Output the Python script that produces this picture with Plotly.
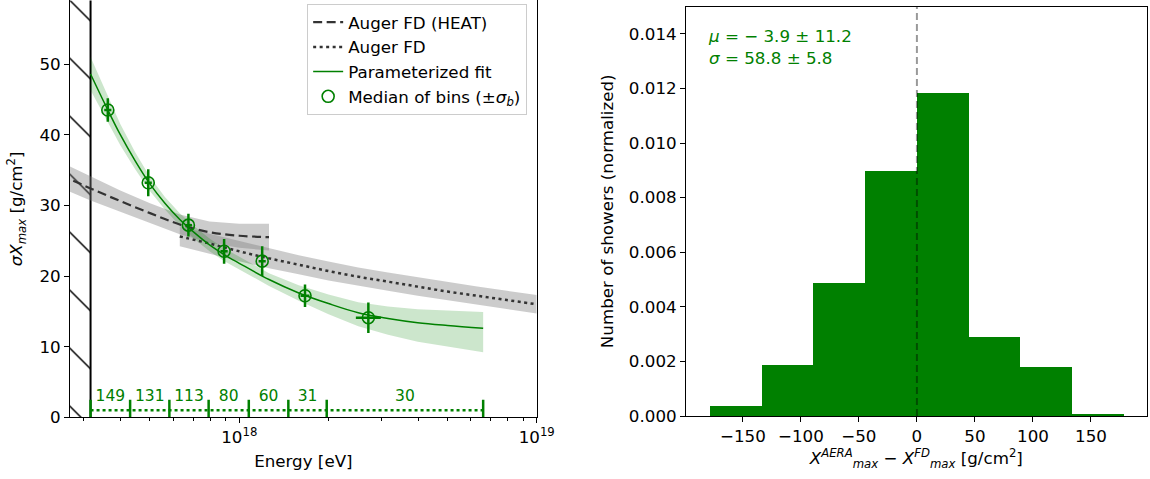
import plotly.graph_objects as go

# ---------------- Left panel data (log10 of energy in eV, sigma Xmax in g/cm^2) ----------------
fit_lgE   = [17.5, 17.55, 17.6, 17.65, 17.7, 17.75, 17.8, 17.85, 17.9, 17.95, 18.0, 18.1, 18.2, 18.3, 18.4, 18.5, 18.6, 18.7, 18.82]
fit_mean  = [48.6, 44.2, 40.0, 36.3, 33.0, 30.3, 28.0, 26.1, 24.4, 23.0, 21.8, 19.5, 17.6, 16.1, 14.8, 14.0, 13.4, 13.0, 12.6]
fit_upper = [51.0, 46.2, 41.5, 37.5, 34.0, 31.2, 28.9, 27.0, 25.3, 23.9, 22.7, 20.4, 18.7, 17.4, 16.3, 15.7, 15.3, 15.1, 14.9]
fit_lower = [46.3, 42.3, 38.5, 35.1, 32.0, 29.4, 27.1, 25.2, 23.5, 22.1, 20.9, 18.6, 16.5, 14.6, 12.9, 11.7, 10.7, 10.0, 9.2]

heat_lgE  = [17.40, 17.5, 17.6, 17.7, 17.8, 17.9, 18.0, 18.1]
heat_mean = [34.3, 32.4, 30.6, 28.9, 27.3, 26.2, 25.7, 25.5]
heat_half = [1.8, 1.7, 1.5, 1.4, 1.4, 1.5, 1.7, 1.9]

fd_lgE  = [17.8, 17.9, 18.0, 18.1, 18.2, 18.3, 18.4, 18.5, 18.6, 18.7, 18.8, 18.9, 19.0]
fd_mean = [25.6, 24.6, 23.5, 22.5, 21.6, 20.7, 19.9, 19.2, 18.5, 17.8, 17.2, 16.6, 16.0]
fd_half = [1.4, 1.4, 1.4, 1.4, 1.35, 1.35, 1.3, 1.3, 1.3, 1.3, 1.3, 1.3, 1.3]

pts_lgE    = [17.558, 17.694, 17.829, 17.949, 18.077, 18.221, 18.434]
pts_lgEerr = [0.012, 0.012, 0.012, 0.012, 0.012, 0.015, 0.042]
pts_sigma  = [43.5, 33.2, 27.2, 23.5, 22.1, 17.2, 14.1]
pts_err    = [1.65, 1.9, 1.6, 1.75, 2.1, 1.6, 2.15]

bin_edges_lgE = [17.5, 17.633, 17.765, 17.897, 18.032, 18.165, 18.294, 18.82]
bin_counts    = ["149", "131", "113", "80", "60", "31", "30"]
bin_line_y    = 1.0
count_text_y  = 2.9

cut_lgE = 17.5
left_xrange = [17.431, 19.0]
left_yrange = [0, 59]

# ---------------- Right panel data ----------------
hist_edges   = [-178.5, -133.9, -89.2, -44.6, 0.0, 44.6, 89.2, 133.9, 178.5]
hist_heights = [0.0004, 0.0019, 0.0049, 0.0090, 0.01185, 0.0029, 0.00183, 0.0001]
right_xrange = [-199, 198]
right_yrange = [0, 0.015]
x_ticks_r = [-150, -100, -50, 0, 50, 100, 150]
y_ticks_r = [0.0, 0.002, 0.004, 0.006, 0.008, 0.010, 0.012, 0.014]

GREEN = "#008000"
FONT = "DejaVu Sans"
FS = 16.7


def E(lg):
    return [10 ** v for v in lg]


fig = go.Figure()

# hatched excluded region
fig.add_trace(go.Scatter(
    x=E([17.3, cut_lgE, cut_lgE, 17.3]), y=[0, 0, 70, 70],
    mode="lines", fill="toself", line=dict(width=0),
    fillcolor="rgba(0,0,0,0)",
    fillpattern=dict(shape="\\", size=41, solidity=0.035, fgcolor="black", fgopacity=1,
                     bgcolor="rgba(0,0,0,0)"),
    showlegend=False, hoverinfo="skip", xaxis="x", yaxis="y"))
fig.add_trace(go.Scatter(
    x=E([cut_lgE, cut_lgE]), y=[0, 70], mode="lines",
    line=dict(color="black", width=2), showlegend=False, hoverinfo="skip"))

# bands
heat_up = [m + h for m, h in zip(heat_mean, heat_half)]
heat_lo = [m - h for m, h in zip(heat_mean, heat_half)]
fig.add_trace(go.Scatter(
    x=E(heat_lgE) + E(heat_lgE)[::-1], y=heat_up + heat_lo[::-1],
    fill="toself", fillcolor="rgba(128,128,128,0.4)", line=dict(width=0),
    mode="lines", showlegend=False, hoverinfo="skip"))
fd_up = [m + h for m, h in zip(fd_mean, fd_half)]
fd_lo = [m - h for m, h in zip(fd_mean, fd_half)]
fig.add_trace(go.Scatter(
    x=E(fd_lgE) + E(fd_lgE)[::-1], y=fd_up + fd_lo[::-1],
    fill="toself", fillcolor="rgba(128,128,128,0.4)", line=dict(width=0),
    mode="lines", showlegend=False, hoverinfo="skip"))
fig.add_trace(go.Scatter(
    x=E(fit_lgE) + E(fit_lgE)[::-1], y=fit_upper + fit_lower[::-1],
    fill="toself", fillcolor="rgba(0,128,0,0.2)", line=dict(width=0),
    mode="lines", showlegend=False, hoverinfo="skip"))

# lines
fig.add_trace(go.Scatter(
    x=E(heat_lgE), y=heat_mean, mode="lines", name="Auger FD (HEAT)",
    line=dict(color="#333333", width=2.2, dash="9px,4.5px", shape="spline")))
fig.add_trace(go.Scatter(
    x=E(fd_lgE), y=fd_mean, mode="lines", name="Auger FD",
    line=dict(color="#333333", width=2.5, dash="3px,3.5px", shape="spline")))
fig.add_trace(go.Scatter(
    x=E(fit_lgE), y=fit_mean, mode="lines", name="Parameterized fit",
    line=dict(color=GREEN, width=1.5, shape="spline")))

# median points
ex_plus = [10 ** (l + e) - 10 ** l for l, e in zip(pts_lgE, pts_lgEerr)]
ex_minus = [10 ** l - 10 ** (l - e) for l, e in zip(pts_lgE, pts_lgEerr)]
fig.add_trace(go.Scatter(
    x=E(pts_lgE), y=pts_sigma, mode="markers", name="Median of bins (±<i>σ</i><sub><i>b</i></sub>)",
    marker=dict(symbol="circle-open", size=12, color=GREEN, line=dict(width=1.6, color=GREEN)),
    error_y=dict(type="data", array=pts_err, color=GREEN, thickness=2.5, width=0),
    error_x=dict(type="data", array=ex_plus, arrayminus=ex_minus, color=GREEN, thickness=2.5, width=0)))

# bin ranges
fig.add_trace(go.Scatter(
    x=E(bin_edges_lgE), y=[bin_line_y] * len(bin_edges_lgE), mode="lines+markers",
    line=dict(color=GREEN, width=2.5, dash="3px,3px"),
    marker=dict(symbol="line-ns", size=15, line=dict(width=2.5, color=GREEN)),
    showlegend=False, hoverinfo="skip"))
mids = [10 ** ((a + b) / 2) for a, b in zip(bin_edges_lgE[:-1], bin_edges_lgE[1:])]
fig.add_trace(go.Scatter(
    x=mids, y=[count_text_y] * len(mids), mode="text", text=bin_counts,
    textfont=dict(color=GREEN, size=15.5, family=FONT), textposition="middle center",
    showlegend=False, hoverinfo="skip"))

# ---------------- Right panel ----------------
centers = [(a + b) / 2 for a, b in zip(hist_edges[:-1], hist_edges[1:])]
widths = [b - a for a, b in zip(hist_edges[:-1], hist_edges[1:])]
fig.add_trace(go.Bar(
    x=centers, y=hist_heights, width=widths, marker=dict(color=GREEN, line=dict(width=0)),
    showlegend=False, xaxis="x2", yaxis="y2"))

fig.add_shape(type="line", xref="x2", yref="y2", x0=0, x1=0, y0=right_yrange[0], y1=right_yrange[1],
              line=dict(color="rgba(0,0,0,0.4)", width=2, dash="7px,4px"), layer="above")

fig.add_annotation(
    xref="paper", yref="paper", x=0.614, y=0.95, xanchor="left", yanchor="top",
    text="<i>μ</i> = − 3.9 ± 11.2<br><i>σ</i> = 58.8 ± 5.8", showarrow=False, align="left",
    font=dict(color=GREEN, size=FS, family=FONT))

axis_common = dict(showline=True, mirror=True, linecolor="black", linewidth=1,
                   ticks="outside", ticklen=5, tickwidth=1, tickcolor="black",
                   showgrid=False, zeroline=False, automargin=False,
                   tickfont=dict(family=FONT, size=FS, color="black"))

minor_vals = [k * 10 ** 17 for k in range(3, 10)] + [k * 10 ** 18 for k in range(2, 10)]

fig.update_layout(
    width=1150, height=479,
    margin=dict(l=0, r=0, t=0, b=0),
    paper_bgcolor="white", plot_bgcolor="white",
    font=dict(family=FONT, size=FS, color="black"),
    bargap=0,
    xaxis=dict(axis_common, type="log", range=left_xrange, domain=[0.0609, 0.4667],
               tickvals=[1e18, 1e19], ticktext=["10<sup>18</sup>", "10<sup>19</sup>"],
               minor=dict(tickvals=minor_vals, ticks="outside", ticklen=3, tickwidth=1, tickcolor="black"),
               title=dict(text="Energy [eV]", standoff=8, font=dict(family=FONT, size=FS)),
               anchor="y"),
    yaxis=dict(axis_common, range=left_yrange, domain=[0.1288, 0.999], dtick=10,
               title=dict(text="<i>σX</i><sub><i>max</i></sub> [g/cm<sup>2</sup>]", standoff=12,
                          font=dict(family=FONT, size=FS)),
               anchor="x"),
    xaxis2=dict(axis_common, range=right_xrange, domain=[0.5965, 0.9971], tickvals=x_ticks_r,
                title=dict(text="<i>X</i><sup><i>AERA</i></sup><sub><i>max</i></sub> − <i>X</i><sup><i>FD</i></sup><sub><i>max</i></sub> [g/cm<sup>2</sup>]",
                           standoff=6, font=dict(family=FONT, size=FS)),
                anchor="y2"),
    yaxis2=dict(axis_common, range=right_yrange, domain=[0.1315, 0.9864], tickvals=y_ticks_r,
                tickformat=".3f",
                title=dict(text="Number of showers (normalized)", standoff=10, font=dict(family=FONT, size=FS)),
                anchor="x2"),
    legend=dict(x=0.4584, xanchor="right", y=0.992, yanchor="top",
                bgcolor="white", bordercolor="#cccccc", borderwidth=1,
                font=dict(family=FONT, size=FS), tracegroupgap=0, itemwidth=30),
)

fig.write_html("out.html", config={"displayModeBar": False},
               post_script="document.body.style.margin='0';")
